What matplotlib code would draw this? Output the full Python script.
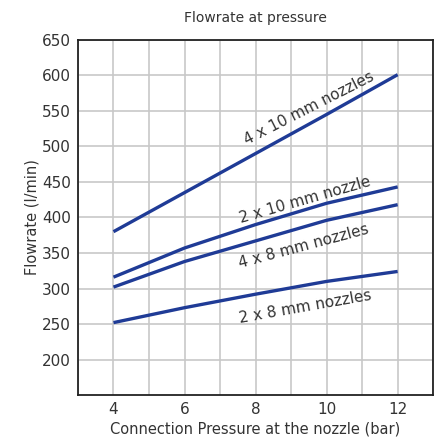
import matplotlib.pyplot as plt

# pressure at the nozzle (bar)
pressure = [4, 6, 8, 10, 12]

# flowrate (l/min) per nozzle setup
flow_4x10 = [380, 435, 490, 545, 601]
flow_2x10 = [316, 357, 390, 420, 443]
flow_4x8 = [302, 338, 367, 396, 418]
flow_2x8 = [252, 273, 292, 310, 324]

series_labels = ["4 x 10 mm nozzles", "2 x 10 mm nozzle", "4 x 8 mm nozzles", "2 x 8 mm nozzles"]

line_color = "#1f3b96"
text_color = "#333333"

fig = plt.figure(figsize=(4.38, 4.38), dpi=100)
ax = fig.add_axes([0.178, 0.098, 0.811, 0.811])

for flow in [flow_4x10, flow_2x10, flow_4x8, flow_2x8]:
    ax.plot(pressure, flow, color=line_color, linewidth=2.4, solid_capstyle="butt")

ax.set_xlim(3, 13)
ax.set_ylim(150, 650)
ax.set_xticks([4, 6, 8, 10, 12])
ax.set_xticks(range(3, 14), minor=True)
ax.set_yticks(range(200, 651, 50))
ax.grid(True, which="both", color="#c8c8c8", linewidth=1.2)
ax.set_axisbelow(True)
ax.tick_params(length=0, which="both", labelsize=11, colors=text_color, pad=5)
for sp in ax.spines.values():
    sp.set_color("#222222")
    sp.set_linewidth(1.3)

ax.set_title("Flowrate at pressure", fontsize=10, color=text_color, pad=13)
ax.set_xlabel("Connection Pressure at the nozzle (bar)", fontsize=10.5, color=text_color, labelpad=3)
ax.set_ylabel("Flowrate (l/min)", fontsize=10.5, color=text_color, labelpad=2)

# line labels
label_pos = [(9.5, 553, 27), (9.4, 424, 16), (9.35, 359, 15), (9.4, 274, 10)]
for txt, (x, y, rot) in zip(series_labels, label_pos):
    ax.text(x, y, txt, rotation=rot, fontsize=11, color=text_color,
            ha="center", va="center", rotation_mode="anchor")

fig.savefig("out.png", dpi=100)
